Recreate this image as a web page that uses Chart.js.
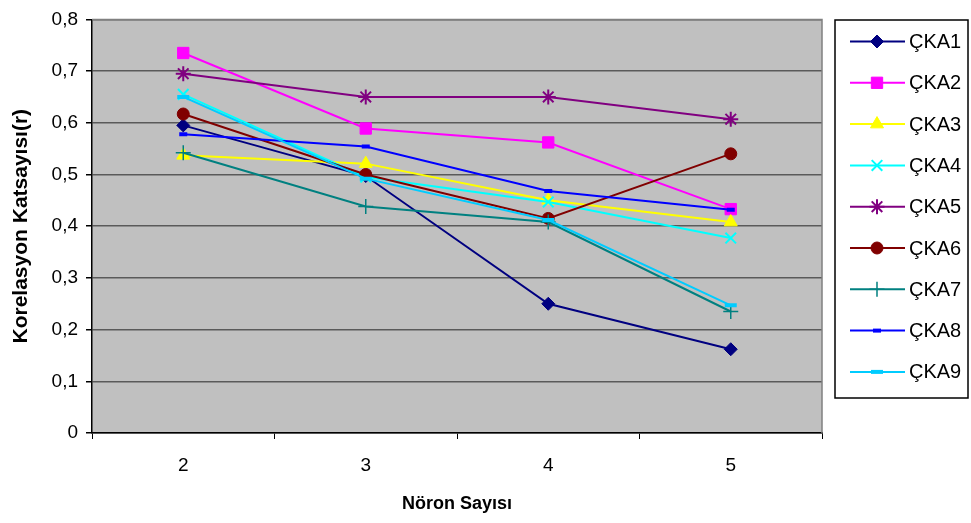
<!DOCTYPE html>
<html>
<head>
<meta charset="utf-8">
<script src="https://cdn.jsdelivr.net/npm/chart.js@4/dist/chart.umd.min.js"></script>
<style>
  html, body { margin: 0; padding: 0; background: #fff; }
  #wrap { width: 971px; height: 523px; }
</style>
</head>
<body>
<div id="wrap"><canvas id="c" width="971" height="523"></canvas></div>
<script>
const labels = ["2", "3", "4", "5"];
const seriesNames = ["ÇKA1", "ÇKA2", "ÇKA3", "ÇKA4", "ÇKA5", "ÇKA6", "ÇKA7", "ÇKA8", "ÇKA9"];
const cka1 = [0.595, 0.497, 0.250, 0.162];
const cka2 = [0.735, 0.589, 0.562, 0.433];
const cka3 = [0.537, 0.521, 0.450, 0.408];
const cka4 = [0.655, 0.495, 0.447, 0.377];
const cka5 = [0.695, 0.650, 0.650, 0.607];
const cka6 = [0.617, 0.500, 0.415, 0.540];
const cka7 = [0.542, 0.438, 0.408, 0.235];
const cka8 = [0.578, 0.554, 0.468, 0.432];
const cka9 = [0.650, 0.492, 0.412, 0.247];
const seriesValues = [cka1, cka2, cka3, cka4, cka5, cka6, cka7, cka8, cka9];

const colors = ["#000080", "#FF00FF", "#FFFF00", "#00FFFF", "#800080", "#800000", "#008080", "#0000FF", "#00CCFF"];
const styles = [
    { pointStyle: "rectRot", radius: 6.5, bw: 1 },
    { pointStyle: "rect", radius: 8, bw: 1 },
    { pointStyle: "triangle", radius: 7.5, bw: 1 },
    { pointStyle: "crossRot", radius: 7.5, bw: 2 },
    { pointStyle: "star", radius: 7.5, bw: 2 },
    { pointStyle: "circle", radius: 6, bw: 1 },
    { pointStyle: "cross", radius: 7.5, bw: 1.5 },
    { pointStyle: "line", radius: 4, bw: 4 },
    { pointStyle: "line", radius: 6, bw: 4 },
];

const FONT = "'Liberation Sans', Arial, sans-serif";

const datasets = seriesNames.map((name, i) => ({
    label: name,
    data: seriesValues[i],
    borderColor: colors[i],
    backgroundColor: colors[i],
    borderWidth: 2,
    pointStyle: styles[i].pointStyle,
    pointRadius: styles[i].radius,
    pointHoverRadius: styles[i].radius,
    pointBorderWidth: styles[i].bw,
    pointBackgroundColor: colors[i],
    pointBorderColor: colors[i],
    tension: 0,
    order: 9 - i,
}));

// grey plot area + grey top/right frame
const plotBackground = {
    id: "plotBackground",
    beforeDraw(chart) {
        const { ctx, chartArea: a } = chart;
        ctx.save();
        ctx.fillStyle = "#C0C0C0";
        ctx.fillRect(a.left, a.top, a.right - a.left, a.bottom - a.top);
        ctx.restore();
    },
    beforeDatasetsDraw(chart) {
        const { ctx, chartArea: a } = chart;
        ctx.save();
        ctx.strokeStyle = "#808080";
        ctx.lineWidth = 1.5;
        ctx.beginPath();
        ctx.moveTo(a.left, a.top);
        ctx.lineTo(a.right, a.top);
        ctx.lineTo(a.right, a.bottom);
        ctx.stroke();
        ctx.restore();
    },
};

// boxed legend with line + marker, like the original
const boxLegend = {
    id: "boxLegend",
    afterDraw(chart) {
        const { ctx } = chart;
        const left = 835, top = 20, right = 968, bottom = 398;
        ctx.save();
        ctx.fillStyle = "#fff";
        ctx.fillRect(left, top, right - left, bottom - top);
        ctx.strokeStyle = "#000";
        ctx.lineWidth = 1.5;
        ctx.strokeRect(left, top, right - left, bottom - top);
        chart.data.datasets.forEach((ds, i) => {
            const y = 41.5 + i * 41.3;
            ctx.strokeStyle = ds.borderColor;
            ctx.lineWidth = 2;
            ctx.beginPath();
            ctx.moveTo(850, y);
            ctx.lineTo(905, y);
            ctx.stroke();
            ctx.fillStyle = ds.pointBackgroundColor;
            ctx.strokeStyle = ds.pointBorderColor;
            ctx.lineWidth = ds.pointBorderWidth;
            Chart.helpers.drawPoint(ctx, {
                pointStyle: ds.pointStyle,
                radius: ds.pointRadius,
                rotation: 0,
                borderWidth: ds.pointBorderWidth,
            }, 877, y);
            ctx.fillStyle = "#000";
            ctx.font = "20px " + FONT;
            ctx.textBaseline = "middle";
            ctx.textAlign = "left";
            ctx.fillText(ds.label, 909, y + 1);
        });
        ctx.restore();
    },
};

new Chart(document.getElementById("c").getContext("2d"), {
    type: "line",
    data: { labels: labels, datasets: datasets },
    options: {
        responsive: false,
        animation: false,
        events: [],
        layout: { padding: { left: 0, top: 17, right: 149, bottom: 0 } },
        plugins: {
            legend: { display: false },
            tooltip: { enabled: false },
        },
        scales: {
            x: {
                offset: true,
                afterFit: (s) => { s.height = 90; },
                grid: {
                    display: true,
                    offset: true,
                    drawOnChartArea: false,
                    drawTicks: true,
                    tickLength: 6,
                    tickColor: "#000",
                    color: "#000",
                },
                border: { display: true, color: "#000", width: 1.5 },
                ticks: {
                    color: "#000",
                    padding: 15,
                    maxRotation: 0,
                    font: { family: FONT, size: 19 },
                },
                title: {
                    display: true,
                    text: "Nöron Sayısı",
                    color: "#000",
                    padding: { top: 4, bottom: 8 },
                    font: { family: FONT, size: 18, weight: "bold" },
                },
            },
            y: {
                min: 0,
                max: 0.8,
                afterFit: (s) => { s.width = 92; },
                grid: {
                    color: "#5a5a5a",
                    lineWidth: 1.5,
                    tickLength: 6,
                    tickColor: "#000",
                },
                border: { display: true, color: "#000", width: 1.5 },
                ticks: {
                    stepSize: 0.1,
                    color: "#000",
                    padding: 8,
                    font: { family: FONT, size: 19 },
                    callback: (v) => (Math.round(v * 10) / 10).toString().replace(".", ","),
                },
                title: {
                    display: true,
                    text: "Korelasyon Katsayısı(r)",
                    color: "#000",
                    padding: { top: 9, bottom: 4 },
                    font: { family: FONT, size: 21, weight: "bold" },
                },
            },
        },
    },
    plugins: [plotBackground, boxLegend],
});
</script>
</body>
</html>
